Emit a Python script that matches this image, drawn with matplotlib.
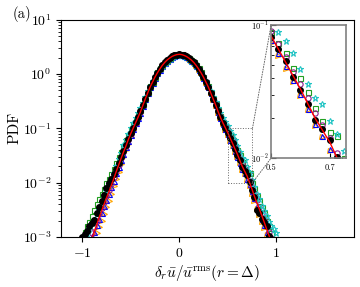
import numpy as np
import matplotlib
matplotlib.use('Agg')
import matplotlib.pyplot as plt
from matplotlib.patches import Rectangle, ConnectionPatch
from matplotlib.ticker import NullFormatter

plt.rcParams['font.family'] = 'serif'
plt.rcParams['font.serif'] = ['cmr10']
plt.rcParams['mathtext.fontset'] = 'cm'
plt.rcParams['axes.formatter.use_mathtext'] = True

nan = np.nan

# bin centres of delta_r u / u_rms
du = [-1.0, -0.975, -0.95, -0.925, -0.9, -0.875, -0.85, -0.825, -0.8, -0.775,
      -0.75, -0.725, -0.7, -0.675, -0.65, -0.625, -0.6, -0.575, -0.55, -0.525,
      -0.5, -0.475, -0.45, -0.425, -0.4, -0.375, -0.35, -0.325, -0.3, -0.275,
      -0.25, -0.225, -0.2, -0.175, -0.15, -0.125, -0.1, -0.075, -0.05, -0.025,
      0.0,
      0.025, 0.05, 0.075, 0.1, 0.125, 0.15, 0.175, 0.2, 0.225, 0.25,
      0.275, 0.3, 0.325, 0.35, 0.375, 0.4, 0.425, 0.45, 0.475, 0.5,
      0.525, 0.55, 0.575, 0.6, 0.625, 0.65, 0.675, 0.7, 0.725, 0.75,
      0.775, 0.8, 0.825, 0.85, 0.875, 0.9, 0.925, 0.95, 0.975, 1.0]

# log10 of PDF for each case
log_ref = [-3.55, -3.42, -3.30, -3.16, -3.02, -2.90, -2.77, -2.64, -2.52, -2.40,
           -2.28, -2.17, -2.05, -1.93, -1.80, -1.68, -1.56, -1.44, -1.33, -1.21,
           -1.10, -1.00, -0.90, -0.80, -0.70, -0.58, -0.46, -0.35, -0.24, -0.15,
           -0.06, 0.02, 0.09, 0.155, 0.21, 0.255, 0.29, 0.32, 0.34, 0.355,
           0.36,
           0.355, 0.34, 0.32, 0.29, 0.255, 0.21, 0.155, 0.09, 0.02, -0.06,
           -0.15, -0.24, -0.35, -0.46, -0.57, -0.69, -0.80, -0.90, -0.99, -1.08,
           -1.18, -1.28, -1.38, -1.48, -1.59, -1.70, -1.79, -1.88, -2.00, -2.12,
           -2.25, -2.37, -2.48, -2.60, -2.72, -2.85, -2.97, -3.10, -3.22, -3.35]

log_black = [-3.00, -2.95, -2.88, -2.80, -2.74, -2.68, -2.55, -2.44, -2.33, -2.22,
             -2.10, -2.00, -1.93, -1.84, -1.74, -1.64, -1.53, -1.42, -1.31, -1.20,
             -1.09, -0.99, -0.89, -0.79, -0.69, -0.58, -0.46, -0.35, -0.24, -0.15,
             -0.06, 0.02, 0.09, 0.155, 0.21, 0.255, 0.29, 0.32, 0.34, 0.355,
             0.36,
             0.355, 0.34, 0.32, 0.29, 0.255, 0.21, 0.155, 0.09, 0.02, -0.06,
             -0.15, -0.24, -0.35, -0.46, -0.57, -0.69, -0.80, -0.90, -0.99, -1.09,
             -1.18, -1.27, -1.39, -1.49, -1.59, -1.71, -1.78, -1.86, -1.99, -2.14,
             -2.27, -2.50, -2.56, -2.66, -2.72, -2.80, -2.98, nan, nan, nan]

log_cyan = [nan, -3.05, -2.95, -2.85, -2.74, -2.70, -2.58, -2.50, -2.38, -2.27,
            -2.15, -2.05, -1.94, -1.82, -1.70, -1.57, -1.45, -1.30, -1.22, -1.10,
            -1.00, -0.91, -0.81, -0.72, -0.63, -0.53, -0.42, -0.32, -0.22, -0.13,
            -0.05, 0.03, 0.09, 0.15, 0.20, 0.245, 0.28, 0.31, 0.33, 0.345,
            0.35,
            0.345, 0.33, 0.31, 0.28, 0.245, 0.20, 0.15, 0.09, 0.02, -0.05,
            -0.13, -0.22, -0.32, -0.42, -0.52, -0.62, -0.72, -0.81, -0.89, -0.96,
            -1.05, -1.12, -1.21, -1.33, -1.44, -1.55, -1.59, -1.72, -1.82, -1.95,
            -2.08, -2.20, -2.30, -2.42, -2.52, -2.62, -2.72, -2.80, -2.86, -2.92]

log_green = [nan, -2.90, -2.80, -2.72, -2.62, -2.50, -2.40, -2.30, -2.21, -2.11,
             -2.01, -1.93, -1.84, -1.74, -1.64, -1.53, -1.43, -1.32, -1.22, -1.12,
             -1.02, -0.93, -0.84, -0.75, -0.66, -0.55, -0.44, -0.34, -0.23, -0.14,
             -0.05, 0.03, 0.10, 0.16, 0.215, 0.26, 0.295, 0.325, 0.345, 0.36,
             0.365,
             0.36, 0.345, 0.325, 0.295, 0.26, 0.215, 0.16, 0.10, 0.03, -0.05,
             -0.14, -0.23, -0.34, -0.45, -0.56, -0.67, -0.78, -0.88, -0.97, -1.05,
             -1.13, -1.21, -1.32, -1.40, -1.50, -1.62, -1.72, -1.80, -1.83, -2.00,
             -2.10, -2.24, -2.34, -2.45, -2.56, -2.70, -2.80, -2.92, nan, nan]

log_purple = [nan, nan, -3.20, -3.05, -2.92, -2.82, -2.70, -2.58, -2.47, -2.35,
              -2.24, -2.13, -2.02, -1.90, -1.79, -1.67, -1.55, -1.44, -1.32, -1.21,
              -1.10, -1.00, -0.90, -0.80, -0.70, -0.58, -0.46, -0.35, -0.24, -0.15,
              -0.06, 0.02, 0.09, 0.155, 0.21, 0.255, 0.29, 0.32, 0.34, 0.355,
              0.36,
              0.355, 0.34, 0.32, 0.29, 0.255, 0.21, 0.155, 0.09, 0.02, -0.06,
              -0.15, -0.24, -0.35, -0.46, -0.56, -0.67, -0.78, -0.88, -0.96, -1.04,
              -1.14, -1.24, -1.35, -1.44, -1.55, -1.66, -1.75, -1.85, -1.96, -2.08,
              -2.20, -2.32, -2.44, -2.55, -2.66, -2.78, -2.90, -3.02, nan, nan]

log_blue = [nan, nan, -3.22, -3.10, -2.98, -2.90, -2.78, -2.67, -2.55, -2.43,
            -2.31, -2.20, -2.08, -1.96, -1.83, -1.71, -1.59, -1.47, -1.35, -1.23,
            -1.12, -1.02, -0.91, -0.81, -0.71, -0.59, -0.47, -0.36, -0.25, -0.16,
            -0.07, 0.01, 0.08, 0.145, 0.20, 0.245, 0.28, 0.31, 0.33, 0.345,
            0.35,
            0.345, 0.33, 0.31, 0.28, 0.245, 0.20, 0.145, 0.08, 0.01, -0.07,
            -0.16, -0.25, -0.36, -0.47, -0.58, -0.70, -0.81, -0.92, -1.01, -1.11,
            -1.21, -1.31, -1.41, -1.52, -1.63, -1.74, -1.83, -1.93, -2.03, -2.16,
            -2.29, -2.42, -2.54, -2.66, -2.78, -2.91, -3.05, nan, nan, nan]

log_orange = [nan, nan, nan, nan, -3.15, -3.05, -2.93, -2.82, -2.70, -2.58,
              -2.45, -2.33, -2.20, -2.06, -1.93, -1.80, -1.66, -1.53, -1.40, -1.28,
              -1.16, -1.04, -0.93, -0.82, -0.72, -0.60, -0.48, -0.36, -0.25, -0.16,
              -0.07, 0.01, 0.08, 0.145, 0.20, 0.245, 0.28, 0.31, 0.33, 0.345,
              0.35,
              0.345, 0.33, 0.31, 0.28, 0.245, 0.20, 0.145, 0.08, 0.01, -0.07,
              -0.16, -0.25, -0.36, -0.48, -0.59, -0.71, -0.82, -0.93, -1.03, -1.13,
              -1.23, -1.33, -1.43, -1.53, -1.64, -1.76, -1.84, -1.95, -2.07, -2.20,
              -2.34, -2.48, -2.60, -2.72, -2.84, -2.96, -3.10, nan, nan, nan]

open_cases = [(log_orange, '>', '#ffa500', 3.6),
              (log_blue, '^', '#0000ff', 3.6),
              (log_green, 's', '#22a022', 3.6),
              (log_purple, 'o', '#8b1a8b', 3.8),
              (log_cyan, '*', '#22c4c4', 4.8)]


def draw(a):
    for vals, m, c, ms in open_cases:
        a.plot(du, 10.0 ** np.array(vals), ls='none', marker=m, mfc='none',
               mec=c, ms=ms, mew=0.8)
    a.plot(du, 10.0 ** np.array(log_black), ls='none', marker='o', color='k', ms=4)
    a.plot(du, 10.0 ** np.array(log_ref), 'r-', lw=1.0)


fig = plt.figure(figsize=(3.6, 2.87), dpi=100)
ax = fig.add_axes([0.169, 0.174, 0.814, 0.758])
ax.set_yscale('log')
draw(ax)
ax.set_xlim(-1.22, 1.8)
ax.set_ylim(1e-3, 10)
ax.set_xticks([-1, 0, 1])
ax.tick_params(labelsize=10)
ax.set_xlabel(r'$\delta_r\bar{u}/\bar{u}^{\rm rms}(r=\Delta)$', fontsize=11, labelpad=2)
ax.set_ylabel('PDF', fontsize=11, labelpad=1)
fig.text(0.035, 0.95, '(a)', fontsize=10.5, va='center')

# zoom window
x0, x1, y0, y1 = 0.5, 0.755, 1e-2, 1e-1
ax.add_patch(Rectangle((x0, y0), x1 - x0, y1 - y0, fill=False, ls=':',
                       ec='0.4', lw=0.7, zorder=5))

axins = fig.add_axes([0.753, 0.449, 0.208, 0.463])
axins.set_yscale('log')
draw(axins)
axins.set_xlim(x0, x1)
axins.set_ylim(y0, y1)
axins.set_xticks([0.5, 0.7])
axins.set_xticklabels(['0.5', '0.7'])
axins.yaxis.set_minor_formatter(NullFormatter())
axins.tick_params(which='both', direction='in', labelsize=6)
axins.tick_params(axis='x', pad=4)
axins.tick_params(axis='y', pad=1.5)
for s in axins.spines.values():
    s.set_edgecolor('0.5')
    s.set_linewidth(1.2)

for ya, yb in [(y1, y1), (y0, y0)]:
    con = ConnectionPatch(xyA=(x1, ya), coordsA=ax.transData,
                          xyB=(x0, yb), coordsB=axins.transData,
                          ls=':', color='0.4', lw=0.7)
    fig.add_artist(con)

fig.savefig('out.png', dpi=100)
